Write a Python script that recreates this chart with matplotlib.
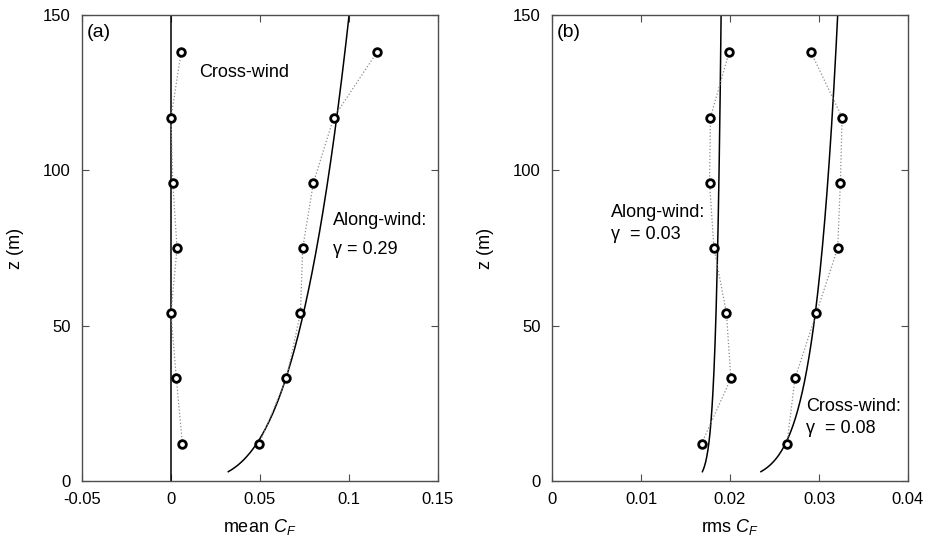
import matplotlib
matplotlib.use("Agg")
import matplotlib.pyplot as plt
import numpy as np

plt.rcParams['font.family'] = ['Liberation Sans', 'DejaVu Sans']
plt.rcParams['font.size'] = 12
plt.rcParams['mathtext.fontset'] = 'custom'
plt.rcParams['mathtext.rm'] = 'Liberation Sans'
plt.rcParams['mathtext.it'] = 'Liberation Sans:italic'

# heights of the measurement points
z = [12, 33, 54, 75, 96, 117, 138]

# (a) mean force coefficient
mean_cross = [0.0064, 0.003, 0.0, 0.0034, 0.001, 0.0, 0.0057]
mean_along = [0.0496, 0.0648, 0.0727, 0.074, 0.080, 0.0914, 0.1157]

# (b) rms force coefficient
rms_along = [0.0168, 0.0201, 0.0196, 0.0182, 0.0177, 0.0178, 0.0199]
rms_cross = [0.0264, 0.0273, 0.0297, 0.0321, 0.0324, 0.0326, 0.0291]

# power-law fits  C = a * z**gamma
fit_z = np.linspace(3, 155, 200)
mean_along_a, mean_along_g = 0.0234, 0.29
rms_along_a, rms_along_g = 0.01635, 0.03
rms_cross_a, rms_cross_g = 0.0215, 0.08

fig = plt.figure(figsize=(9.27, 5.42), dpi=100)
ax1 = fig.add_axes([82/927, 61/542, 356/927, 466/542])
ax2 = fig.add_axes([552/927, 61/542, 356/927, 466/542])

pts = dict(color='0.55', lw=0.9, ls=':', marker='o', ms=5.5, mfc='white',
           mec='black', mew=2, zorder=3)
fs = 13

# panel (a)
ax1.axvline(0, color='black', lw=1.1, zorder=2)
ax1.plot(mean_along_a * fit_z**mean_along_g, fit_z, color='black', lw=1.1, zorder=2)
ax1.plot(mean_cross, z, **pts)
ax1.plot(mean_along, z, **pts)
ax1.set_xlim(-0.05, 0.15)
ax1.set_xticks([-0.05, 0, 0.05, 0.1, 0.15])
ax1.set_xticklabels(['-0.05', '0', '0.05', '0.1', '0.15'])
ax1.set_xlabel('mean $C_F$', fontsize=13, labelpad=7)
ax1.text(0.0157, 131.5, 'Cross-wind', va='center', fontsize=fs)
ax1.text(0.0912, 84, 'Along-wind:', va='center', fontsize=fs)
ax1.text(0.0912, 74.5, '\u03b3 = 0.29', va='center', fontsize=fs)
ax1.text(0.012, 0.963, '(a)', transform=ax1.transAxes, va='center', fontsize=14)

# panel (b)
ax2.plot(rms_along_a * fit_z**rms_along_g, fit_z, color='black', lw=1.1, zorder=2)
ax2.plot(rms_cross_a * fit_z**rms_cross_g, fit_z, color='black', lw=1.1, zorder=2)
ax2.plot(rms_along, z, **pts)
ax2.plot(rms_cross, z, **pts)
ax2.set_xlim(0, 0.04)
ax2.set_xticks([0, 0.01, 0.02, 0.03, 0.04])
ax2.set_xticklabels(['0', '0.01', '0.02', '0.03', '0.04'])
ax2.set_xlabel('rms $C_F$', fontsize=13, labelpad=7)
ax2.text(0.0066, 86.5, 'Along-wind:', va='center', fontsize=fs)
ax2.text(0.0066, 79.5, '\u03b3  = 0.03', va='center', fontsize=fs)
ax2.text(0.0285, 24, 'Cross-wind:', va='center', fontsize=fs)
ax2.text(0.0285, 17, '\u03b3  = 0.08', va='center', fontsize=fs)
ax2.text(0.012, 0.963, '(b)', transform=ax2.transAxes, va='center', fontsize=14)

for ax in (ax1, ax2):
    ax.set_ylim(0, 150)
    ax.set_yticks([0, 50, 100, 150])
    ax.set_ylabel('z (m)', fontsize=13, labelpad=14)
    ax.tick_params(direction='in', top=True, right=True, length=5,
                   color='0.3', pad=8)
    for s in ax.spines.values():
        s.set_color('0.3')
        s.set_linewidth(1)

fig.savefig('out.png', dpi=100)
